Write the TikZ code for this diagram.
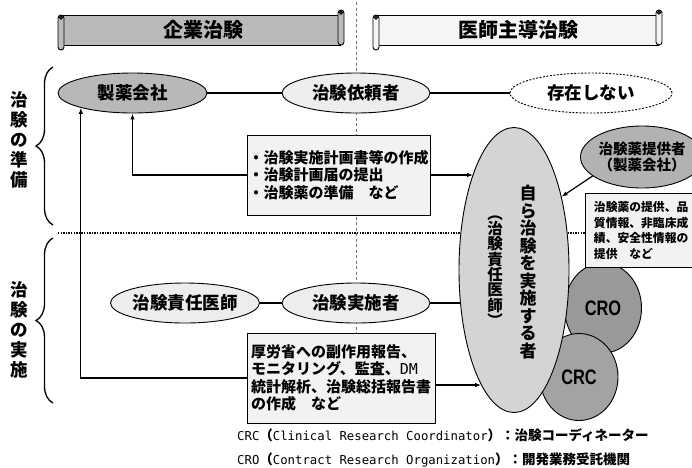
\documentclass[tikz,border=0pt]{standalone}
\usepackage{fontspec}
\setmainfont{Noto Sans CJK JP}
\newfontfamily\monof{DejaVu Sans Mono}
\newfontfamily\latf{Liberation Sans}
\usetikzlibrary{shapes.geometric,arrows.meta,decorations.pathreplacing}
\pgfdeclarelayer{bg}
\pgfsetlayers{bg,main}
\definecolor{gA}{gray}{0.72}
\definecolor{gL}{gray}{0.93}
\definecolor{gB}{gray}{0.83}
\definecolor{gD}{gray}{0.60}
\definecolor{gC}{gray}{0.64}
\definecolor{gT}{gray}{0.70}
\definecolor{gBox}{gray}{0.95}
\definecolor{gBanA}{gray}{0.73}
\definecolor{gBanB}{gray}{0.96}
\tikzset{
  ov/.style={ellipse, draw, line width=0.9pt, inner sep=0pt, font=\bfseries\fontsize{17.5}{19}\selectfont},
  bx/.style={rectangle, draw, line width=0.9pt, fill=gBox, inner sep=0pt, align=left},
  conn/.style={line width=1.2pt},
  arr/.style={line width=1.2pt, -{Latex[length=6pt,width=4.5pt]}},
  brc/.style={decorate, decoration={brace, amplitude=17pt}, line width=1.3pt},
  vlab/.style={align=center, inner sep=0pt, font=\bfseries\fontsize{17.5}{20}\selectfont},
  roll/.style={draw, line width=0.9pt, rounded corners=3pt},
  bantext/.style={inner sep=0pt, font=\bfseries\fontsize{20}{21}\selectfont},
}
\begin{document}
\begin{tikzpicture}[x=1pt,y=-1pt]
\useasboundingbox (0,0) rectangle (692,467);

% banners
\fill[gBanA] (61,15) rectangle (341,45);
\draw[line width=0.9pt] (61,15) -- (341,15) (61,45) -- (341,45);
\draw[roll, fill=gBanA] (338,10) rectangle (344,45);
\draw[line width=0.8pt, fill=black!70] (341,12.5) circle (1.8);
\draw[roll, fill=gBanA] (58,15) rectangle (64,50);
\draw[line width=0.8pt, fill=black!70] (61,17.5) circle (1.8);
\node[bantext] (ban1t) at (203,30) {企業治験};

\fill[gBanB] (376,15) rectangle (659,45);
\draw[line width=0.9pt] (376,15) -- (659,15) (376,45) -- (659,45);
\draw[roll, fill=gBanB] (656,10) rectangle (662,45);
\draw[line width=0.8pt, fill=black!70] (659,12.5) circle (1.8);
\draw[roll, fill=gBanB] (373,15) rectangle (379,50);
\draw[line width=0.8pt, fill=black!70] (376,17.5) circle (1.8);
\node[bantext] (ban2t) at (518,30) {医師主導治験};

% left labels and braces
\node[vlab] (lab1) at (19,140) {治\\験\\の\\準\\備};
\node[vlab] (lab2) at (19,330) {治\\験\\の\\実\\施};
\draw[brc] (53,225) -- (53,67);
\draw[brc] (53,403) -- (53,238);

% top row
\node[ov, fill=gA, minimum width=149, minimum height=40] (seiyaku) at (132.5,93) {製薬会社};
\node[ov, fill=gL, minimum width=148, minimum height=40] (irai) at (356,93) {治験依頼者};
\node[ov, fill=white, dash pattern=on 2pt off 1.5pt, minimum width=162, minimum height=40] (sonzai) at (591,93) {存在しない};

\node[bx, minimum width=183, minimum height=80, font=\bfseries\fontsize{15}{17.5}\selectfont] (box1) at (338.5,175)
  {・治験実施計画書等の作成\\・治験計画届の提出\\・治験薬の準備　など};

% middle row
\node[ov, fill=gL, minimum width=149, minimum height=40] (sekinin) at (185,303) {治験責任医師};
\node[ov, fill=gL, minimum width=148, minimum height=40] (jisshi) at (356,303) {治験実施者};

\node[bx, minimum width=188, minimum height=90, font=\bfseries\fontsize{15}{17.5}\selectfont] (box2) at (341,378)
  {厚労省への副作用報告、\\モニタリング、監査、{\monof\mdseries DM}\\統計解析、治験総括報告書\\の作成　など};

% right side
\node[ellipse, draw, line width=0.9pt, fill=gD, minimum width=77, minimum height=90, inner sep=0pt] (cro) at (603,308)
  {\scalebox{0.78}[1]{\latf\bfseries\fontsize{21}{22}\selectfont CRO}};
\node[ellipse, draw, line width=0.9pt, fill=gC, minimum width=78, minimum height=87, inner sep=0pt] (crc) at (579,377)
  {\scalebox{0.78}[1]{\latf\bfseries\fontsize{21}{22}\selectfont CRC}};
\node[ov, fill=gB, minimum width=110, minimum height=285] (big) at (514,270) {};
\node[align=center, inner sep=0pt, font=\bfseries\fontsize{17}{17.5}\selectfont] (bigt1) at (528,272)
  {自\\ら\\治\\験\\を\\実\\施\\す\\る\\者};
\node[align=center, inner sep=0pt, font=\bfseries\fontsize{15.5}{15.3}\selectfont] (bigt2) at (495,271)
  {︵\\治\\験\\責\\任\\医\\師\\︶};

\node[ov, fill=gT, minimum width=100, minimum height=62, align=center, font=\bfseries\fontsize{14.5}{16.5}\selectfont] (teikyo) at (642,157)
  {治験薬提供者\\（製薬会社）};

\node[bx, anchor=north west, minimum height=74, text width=97, inner xsep=8.5pt, font=\bfseries\fontsize{11.8}{15.5}\selectfont] (box3) at (585,193)
  {治験薬の提供、品\\質情報、非臨床成\\績、安全性情報の\\提供　など};

% legend
\node[anchor=west, inner sep=0pt, font=\bfseries\fontsize{13.5}{15}\selectfont] (lg1) at (237,435)
  {{\monof\mdseries\fontsize{12.3}{15}\selectfont CRC}（{\monof\mdseries\fontsize{12.3}{15}\selectfont Clinical Research Coordinator}）：治験コーディネーター};
\node[anchor=west, inner sep=0pt, font=\bfseries\fontsize{13.5}{15}\selectfont] (lg2) at (237,460)
  {{\monof\mdseries\fontsize{12.3}{15}\selectfont CRO}（{\monof\mdseries\fontsize{12.3}{15}\selectfont Contract Research Organization}）：開発業務受託機関};

\begin{pgfonlayer}{bg}
  \fill[white] (0,0) rectangle (692,467);
  \draw[black!55, line width=1pt, dash pattern=on 3pt off 2.5pt] (356,2) -- (356,333);
  \draw[line width=1.1pt, dash pattern=on 1.3pt off 1.3pt] (58,233) -- (585,233);
  \draw[conn] (seiyaku) -- (irai);
  \draw[conn] (irai) -- (sonzai);
  \draw[conn] (sekinin) -- (jisshi);
  \draw[conn] (jisshi.east) -- (jisshi.east -| big.212);
  \draw[arr] (box1.east) -- (box1.east -| big.113);
  \draw[arr] ([yshift=-7pt]box2.east) -- ([yshift=-7pt]box2.east -| big.254);
  \draw[arr] (box1.west) -| (seiyaku.south);
  \draw[arr] (box2.west) -| (seiyaku.196);
  \draw[arr] (teikyo.201) -- (big.57);
\end{pgfonlayer}
\end{tikzpicture}
\end{document}
